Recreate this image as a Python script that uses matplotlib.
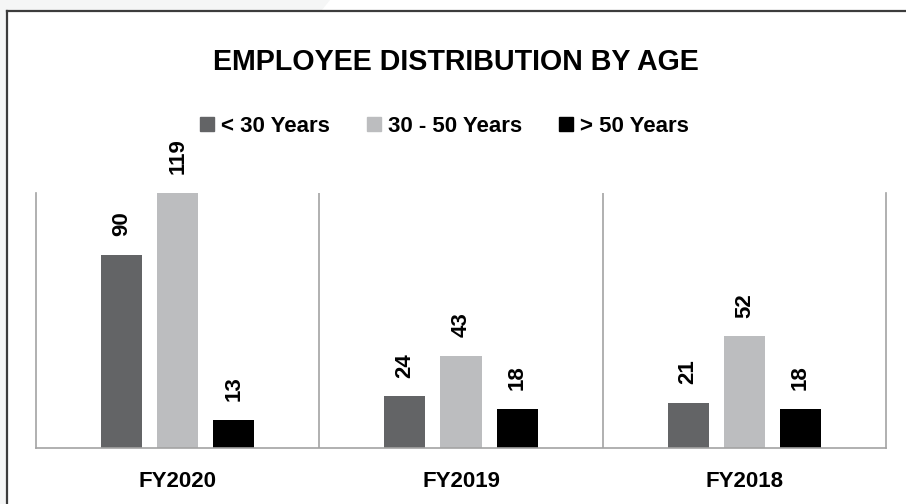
import matplotlib
matplotlib.use("Agg")
import matplotlib.pyplot as plt
from matplotlib.lines import Line2D
from matplotlib.patches import Polygon
import numpy as np

plt.rcParams['font.family'] = ['Liberation Sans', 'DejaVu Sans']
plt.rcParams['font.weight'] = 'bold'

years = ["FY2020", "FY2019", "FY2018"]
groups = ["< 30 Years", "30 - 50 Years", "> 50 Years"]
under_30 = [90, 24, 21]
age_30_50 = [119, 43, 52]
over_50 = [13, 18, 18]

colors = ["#636466", "#bcbdbf", "#000000"]
grid_color = "#a3a3a3"


def main():
    fig = plt.figure(figsize=(9.06, 5.04), dpi=100)
    fig.patch.set_facecolor("white")

    # faint backdrop outside the frame, top-left corner
    fig.patches.append(Polygon([(0, 1), (330 / 906, 1), (322 / 906, 1 - 10 / 504),
                                (6 / 906, 1 - 10 / 504), (6 / 906, 0), (0, 0)],
                               closed=True, transform=fig.transFigure,
                               facecolor="#f5f6f6", edgecolor="none", zorder=0))
    # frame: left and top edges
    fig.add_artist(Line2D([6.5 / 906, 6.5 / 906], [0, 1 - 10.5 / 504],
                          transform=fig.transFigure, color="#3c3c3c", lw=1.6))
    fig.add_artist(Line2D([6.5 / 906, 1], [1 - 10.5 / 504, 1 - 10.5 / 504],
                          transform=fig.transFigure, color="#3c3c3c", lw=1.6))

    ax = fig.add_axes([36 / 906, 1 - 447.7 / 504, 850 / 906, 254.7 / 504])

    x = np.arange(len(years))
    width = 0.145
    offset = 0.198
    series = [under_30, age_30_50, over_50]
    for i, (vals, col, name) in enumerate(zip(series, colors, groups)):
        pos = x + (i - 1) * offset
        ax.bar(pos, vals, width=width, color=col, label=name, zorder=2)
        for xp, v in zip(pos, vals):
            ax.annotate(str(v), (xp, v), xytext=(0, 13.5), textcoords="offset points",
                        rotation=90, ha="center", va="bottom",
                        fontsize=16, fontweight="bold", color="black")

    ax.set_xlim(-0.5, len(years) - 0.5)
    ax.set_ylim(0, 119)
    for sep in x[:-1] + 0.5:
        ax.axvline(sep, color=grid_color, lw=1.2, zorder=1)

    for side in ["left", "right", "bottom"]:
        ax.spines[side].set_color(grid_color)
        ax.spines[side].set_linewidth(1.2)
    ax.spines["top"].set_visible(False)
    ax.set_yticks([])
    ax.set_xticks(x)
    ax.set_xticklabels(years, fontsize=16, fontweight="bold")
    ax.tick_params(axis="x", length=0, pad=16.5)

    fig.text(455.5 / 906, 1 - 62.5 / 504, "EMPLOYEE DISTRIBUTION BY AGE",
             ha="center", va="center", fontsize=20.6, fontweight="bold")

    handles = [Line2D([], [], marker="s", linestyle="none", markersize=9.5,
                      markerfacecolor=c, markeredgecolor=c) for c in colors]
    fig.legend(handles, groups, loc="center", bbox_to_anchor=(444 / 906, 1 - 126 / 504),
               ncol=3, frameon=False, handlelength=0.7, handletextpad=0.3,
               columnspacing=1.6, prop={"size": 16, "weight": "bold"})

    fig.savefig("out.png", dpi=100, facecolor="white")


if __name__ == "__main__":
    main()
